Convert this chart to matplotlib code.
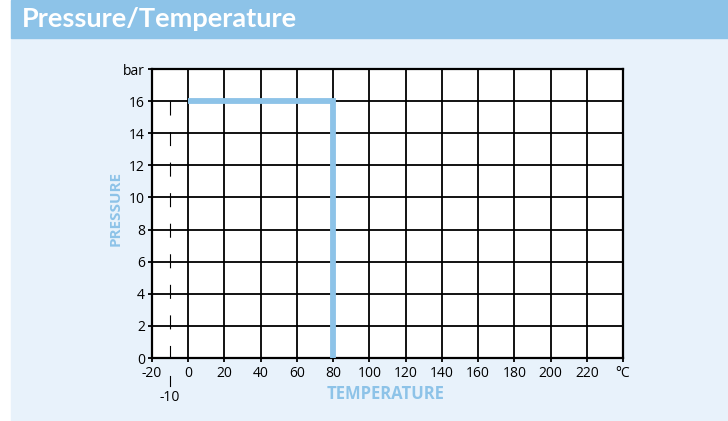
"""
Pressure/Temperature rating chart
"""

import matplotlib
matplotlib.use("Agg")
import matplotlib.pyplot as plt
from matplotlib.patches import Rectangle
from matplotlib.transforms import blended_transform_factory

# data
temp_limit = [0, 80, 80]          # °C
press_limit = [16, 16, 0]         # bar
min_temp = -10                    # dashed lower limit
x_ticks = list(range(-20, 241, 20))
x_labels = [str(v) for v in x_ticks[:-1]] + ["°C"]
y_ticks = list(range(0, 19, 2))
y_labels = [str(v) for v in y_ticks[:-1]] + ["bar"]

blue = "#8DC3E8"
panel = "#E8F2FB"

plt.rcParams['font.family'] = ['Open Sans', 'DejaVu Sans']
plt.rcParams['lines.scale_dashes'] = False

fig = plt.figure(figsize=(7.28, 4.21), dpi=100)
W, H = 728, 421

# header band + light panel
fig.patches.append(Rectangle((11 / W, 0), 1, 1 - 38 / H, transform=fig.transFigure,
                             color=panel, zorder=-10))
fig.patches.append(Rectangle((11 / W, 1 - 38 / H), 1, 38 / H, transform=fig.transFigure,
                             color=blue, zorder=-10))
fig.text(22 / W, 1 - 19 / H, "Pressure/Temperature", color="white", fontsize=19.5,
         fontweight="bold", family=['Lato', 'DejaVu Sans'], va="center", ha="left")

ax = fig.add_axes([152 / W, 1 - 358 / H, (623 - 152) / W, (358 - 69) / H])
ax.set_facecolor("white")
ax.set_xlim(-20, 240)
ax.set_ylim(0, 18)

for v in x_ticks[1:-1]:
    ax.axvline(v, color="black", lw=1.3, zorder=1)
for v in y_ticks[1:-1]:
    ax.axhline(v, color="black", lw=1.3, zorder=1)
for s in ax.spines.values():
    s.set_linewidth(1.6)

ax.set_xticks(x_ticks)
ax.set_xticklabels(x_labels)
ax.set_yticks(y_ticks)
ax.set_yticklabels(y_labels)
ax.tick_params(direction="out", length=3, width=1.3, labelsize=10)
ax.tick_params(axis="x", pad=3)
ax.tick_params(axis="y", pad=2)

# lower temperature limit (dashed)
ax.plot([min_temp, min_temp], [press_limit[0], 0], color="black", lw=0.8,
        linestyle=(0, (10.1, 11.9)), zorder=2)
tr = blended_transform_factory(ax.transData, ax.transAxes)
ax.plot([min_temp, min_temp], [-0.062, -0.097], transform=tr, color="black",
        lw=0.8, clip_on=False)
ax.text(min_temp, -0.11, str(min_temp), transform=tr, ha="center", va="top",
        fontsize=10)

# operating envelope
ax.plot(temp_limit, press_limit, color=blue, lw=4.2, solid_capstyle="butt",
        solid_joinstyle="miter", zorder=3)

fig.text(116 / W, 1 - 208 / H, "PRESSURE", rotation=90, color=blue, fontsize=11,
         fontweight="bold", ha="center", va="center")
fig.text(386 / W, 1 - 394 / H, "TEMPERATURE", color=blue, fontsize=12,
         fontweight="bold", ha="center", va="center")

fig.savefig("out.png", dpi=100, facecolor="white")
